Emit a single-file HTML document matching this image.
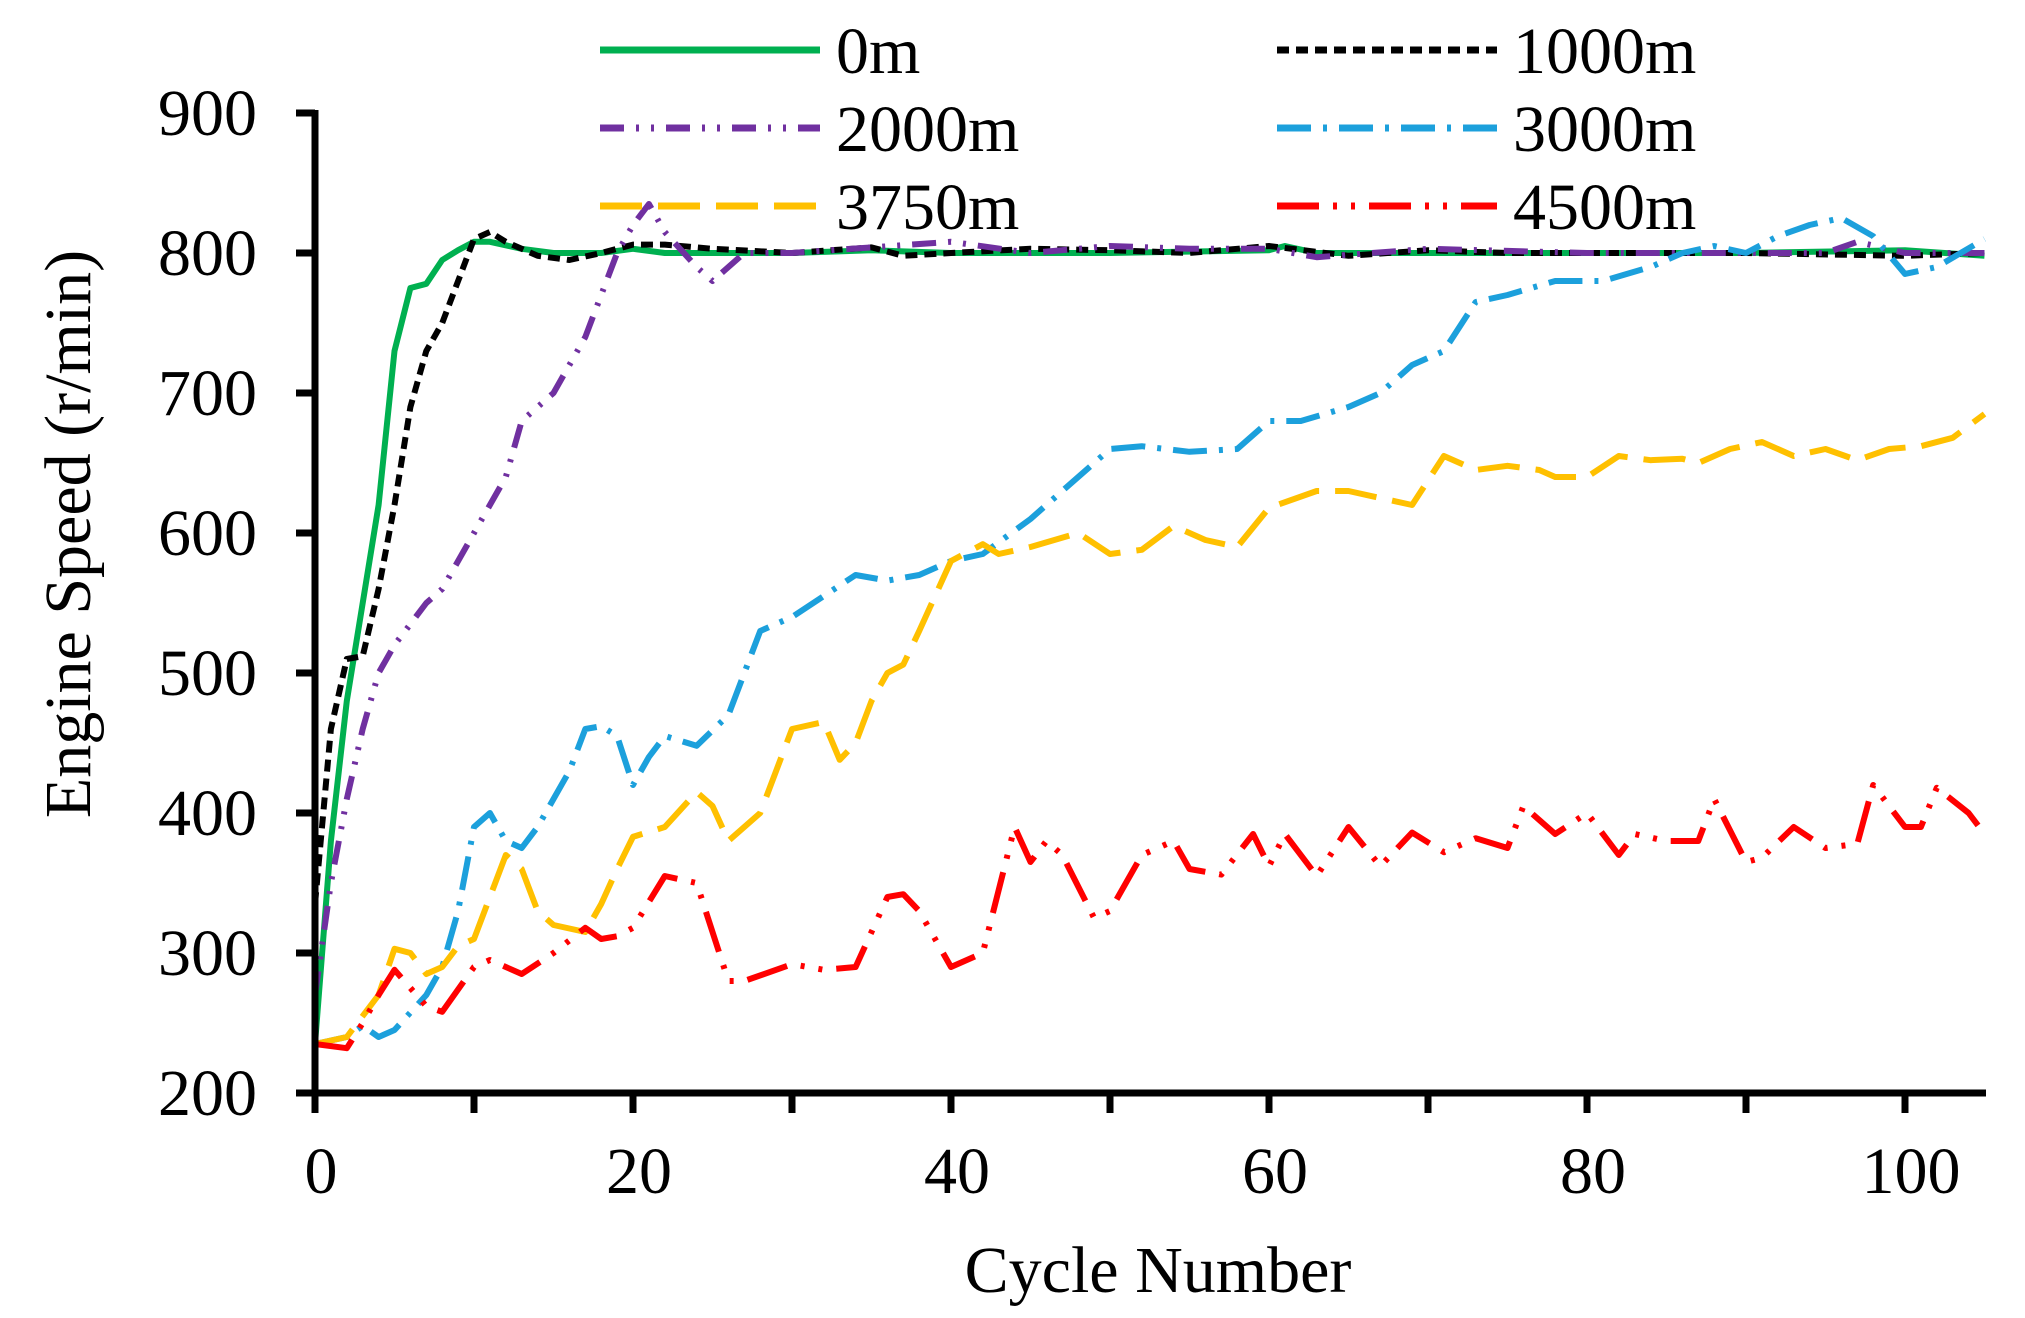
<!DOCTYPE html>
<html><head><meta charset="utf-8"><style>
html,body{margin:0;padding:0;background:#fff;}
svg{display:block;}
text{font-family:"Liberation Serif",serif;font-size:66px;fill:#000;}
</style></head><body>
<svg id="s" width="2025" height="1318" viewBox="0 0 2025 1318" xmlns="http://www.w3.org/2000/svg">
<g id="series" fill="none" stroke-width="6" stroke-linejoin="round"></g>
<g stroke="#000" stroke-width="7" fill="none">
<line x1="315" y1="110" x2="315" y2="1097"/>
<line x1="298" y1="1093" x2="1986" y2="1093"/>
</g>
<g id="ticks" stroke="#000" stroke-width="7"></g>
<g id="labels"></g>
<text x="1158" y="1292" text-anchor="middle">Cycle Number</text>
<text transform="translate(90,534) rotate(-90)" text-anchor="middle">Engine Speed (r/min)</text>
<g id="legend"></g>
</svg>
<script>
var NS="http://www.w3.org/2000/svg";
function X(c){return 315+15.9*c;}
function Y(v){return 1093-(v-200)*1.4;}
function el(p,t,a,txt){var e=document.createElementNS(NS,t);for(var k in a)e.setAttribute(k,a[k]);if(txt!=null)e.textContent=txt;p.appendChild(e);return e;}
var tk=document.getElementById('ticks'),lb=document.getElementById('labels');
for(var v=200;v<=900;v+=100){var y=Y(v);el(tk,'line',{x1:296,y1:y,x2:315,y2:y});el(lb,'text',{x:257,y:y+22,'text-anchor':'end'},v);}
for(var c=0;c<=100;c+=10){var x=X(c);el(tk,'line',{x1:x,y1:1093,x2:x,y2:1113});if(c%20==0)el(lb,'text',{x:x+6,y:1193,'text-anchor':'middle'},c);}
var S=[
{n:'0m',col:'#00b050',d:'',data:[[0,235],[1,380],[2,480],[3,550],[4,620],[5,730],[6,775],[7,778],[8,795],[9,802],[10,808],[11,808],[13,803],[15,800],[18,800],[20,803],[22,800],[30,800],[35,802],[40,800],[50,800],[60,802],[61,805],[63,800],[70,800],[80,800],[90,800],[100,802],[105,798]]},
{n:'1000m',col:'#000',d:'12,7',data:[[0,335],[1,460],[2,510],[3,512],[4,560],[5,620],[6,690],[7,730],[8,750],[9,780],[10,810],[11,815],[12,808],[14,798],[16,795],[18,800],[20,806],[22,806],[25,803],[30,800],[35,804],[37,798],[40,800],[45,803],[50,802],[55,800],[60,805],[65,798],[70,802],[75,800],[80,800],[90,800],[100,798],[105,800]]},
{n:'2000m',col:'#7030a0',d:'24,12,3,12,3,12',data:[[0,270],[1,350],[2,410],[3,460],[4,500],[5,520],[6,535],[7,550],[8,560],[9,580],[10,600],[11,620],[12,640],[13,680],[14,690],[15,700],[16,720],[17,740],[18,770],[19,800],[20,820],[21,835],[22,815],[24,790],[25,780],[27,800],[30,800],[40,808],[45,800],[50,805],[55,803],[60,803],[63,797],[70,803],[80,800],[90,800],[95,800],[97,808],[100,800],[105,800]]},
{n:'3000m',col:'#1ca0dc',d:'34,12,4,12',data:[[0,235],[2,240],[3,248],[4,240],[5,245],[7,270],[8,290],[9,330],[10,390],[11,400],[12,380],[13,375],[14,390],[15,410],[16,430],[17,460],[18,462],[19,455],[20,420],[21,440],[22,455],[24,448],[26,470],[28,530],[30,540],[32,555],[34,570],[36,566],[38,570],[40,580],[42,585],[45,610],[47,630],[50,660],[52,662],[55,658],[58,660],[60,680],[62,680],[65,690],[67,700],[69,720],[71,730],[73,765],[75,770],[78,780],[81,780],[84,790],[86,800],[88,805],[90,800],[92,812],[94,820],[96,825],[98,812],[100,785],[102,790],[105,810]]},
{n:'3750m',col:'#ffc000',d:'42,16',data:[[0,235],[2,240],[3,255],[4,270],[5,303],[6,300],[7,285],[8,290],[9,305],[10,310],[11,340],[12,370],[13,360],[14,330],[15,320],[17,315],[18,335],[19,360],[20,383],[22,390],[24,415],[25,405],[26,380],[28,400],[30,460],[32,465],[33,438],[34,450],[35,480],[36,500],[37,506],[38,530],[40,580],[42,592],[43,585],[45,590],[48,600],[50,585],[52,588],[54,605],[56,595],[58,590],[60,618],[63,630],[65,630],[67,625],[69,620],[71,655],[73,645],[75,648],[77,645],[78,640],[80,640],[82,655],[84,652],[86,653],[87,650],[89,660],[91,665],[93,655],[95,660],[97,652],[99,660],[101,662],[103,668],[105,685]]},
{n:'4500m',col:'#ff0000',d:'42,14,4,14,4,14',data:[[0,235],[2,232],[3,250],[4,270],[5,288],[6,275],[7,262],[8,258],[10,290],[11,295],[12,290],[13,285],[15,300],[17,318],[18,310],[19,312],[20,318],[22,355],[24,350],[26,280],[27,280],[30,292],[32,288],[34,290],[36,340],[37,342],[38,330],[40,290],[42,300],[44,390],[45,365],[46,380],[47,370],[49,325],[50,330],[52,370],[54,380],[55,360],[57,356],[59,385],[60,362],[61,385],[63,355],[65,390],[67,362],[69,386],[71,372],[73,382],[75,375],[76,405],[78,385],[80,400],[82,370],[83,385],[85,380],[87,380],[88,410],[90,365],[91,368],[93,390],[95,375],[97,378],[98,420],[100,390],[101,390],[102,418],[104,400],[105,385]]}
];
var g=document.getElementById('series'),lg=document.getElementById('legend');
var pos=[[600,50],[1277,50],[600,128],[1277,128],[600,206],[1277,206]];
S.forEach(function(s,i){
 var d=s.data.map(function(p,j){return (j?'L':'M')+X(p[0]).toFixed(1)+','+Y(p[1]).toFixed(1);}).join('');
 var a={d:d,stroke:s.col};if(s.d){a['stroke-dasharray']=s.d;}
 el(g,'path',a);
 var p=pos[i],la={x1:p[0],y1:p[1],x2:p[0]+220,y2:p[1],stroke:s.col,'stroke-width':7};
 if(s.d)la['stroke-dasharray']=s.d;
 el(lg,'line',la);
 el(lg,'text',{x:p[0]+236,y:p[1]+23},s.n);
});
</script>
</body></html>
